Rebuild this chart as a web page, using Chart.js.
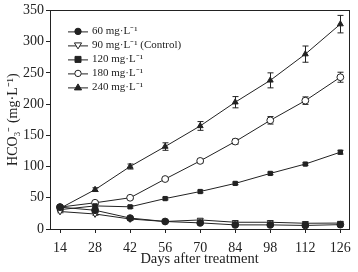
<!DOCTYPE html>
<html><head><meta charset="utf-8">
<script src="https://cdn.jsdelivr.net/npm/chart.js@4/dist/chart.umd.min.js"></script>
<style>html,body{margin:0;padding:0;background:#fff}#w{width:358px;height:272px}</style>
</head><body><div id="w"><canvas id="c"></canvas></div>
<script>
const days = [14, 28, 42, 56, 70, 84, 98, 112, 126];
const yTicks = [0, 50, 100, 150, 200, 250, 300, 350];
const labels = ["60 mg·L⁻¹", "90 mg·L⁻¹ (Control)", "120 mg·L⁻¹", "180 mg·L⁻¹", "240 mg·L⁻¹"];
const s60  = [35, 30, 17.5, 12, 9.8, 6.6, 6.6, 5.7, 7];
const s90  = [28, 24, 16, 12, 14.5, 10.8, 10.8, 9.2, 9.5];
const s120 = [31, 37, 35.5, 48.7, 60, 73, 89, 104, 123];
const s180 = [35, 42, 50, 80, 109, 140, 174, 205.5, 243];
const s240 = [33, 63, 100, 132, 165, 203, 238, 280, 328];
const e60  = [2, 2, 2, 1.5, 1.5, 1.5, 1.5, 1.5, 1.5];
const e90  = [2, 2, 2, 1.5, 1.5, 1.5, 1.5, 1.5, 1.5];
const e120 = [2, 2, 2, 2, 2, 2, 2, 2, 3];
const e180 = [2, 2, 2, 2, 3, 4, 6, 6, 8];
const e240 = [2, 3, 4, 6, 7, 9, 12, 13, 14];

const INK = '#222';
const FONT = '"Liberation Serif", "Times New Roman", serif';
const pts = arr => arr.map((v, i) => ({x: days[i], y: v}));
function ds(label, data, err, style, fill, rot) {
  return {label, data: pts(data), err, borderColor: INK, borderWidth: 1, pointStyle: style,
    pointRotation: rot || 0, pointRadius: style === 'rect' ? 3 : 3.4, pointBackgroundColor: fill,
    pointBorderColor: INK, pointBorderWidth: 1, tension: 0, fill: false};
}
const datasets = [
  ds(labels[0], s60, e60, 'circle', INK),
  ds(labels[1], s90, e90, 'triangle', '#fff', 180),
  ds(labels[2], s120, e120, 'rect', INK),
  ds(labels[3], s180, e180, 'circle', '#fff'),
  ds(labels[4], s240, e240, 'triangle', INK),
];

const errPlugin = {
  id: 'err',
  beforeDatasetsDraw(chart) {
    const ctx = chart.ctx, xs = chart.scales.x, ys = chart.scales.y;
    ctx.save(); ctx.strokeStyle = INK; ctx.lineWidth = 1;
    chart.data.datasets.forEach(d => {
      d.data.forEach((p, i) => {
        const e = d.err[i]; const x = Math.round(xs.getPixelForValue(p.x)) + 0.5;
        const y1 = ys.getPixelForValue(p.y - e), y2 = ys.getPixelForValue(p.y + e);
        ctx.beginPath(); ctx.moveTo(x, y1); ctx.lineTo(x, y2);
        ctx.moveTo(x - 3, y1); ctx.lineTo(x + 3, y1);
        ctx.moveTo(x - 3, y2); ctx.lineTo(x + 3, y2); ctx.stroke();
      });
    });
    ctx.restore();
  },
  afterDraw(chart) {
    const ctx = chart.ctx, a = chart.chartArea;
    ctx.save(); ctx.strokeStyle = INK; ctx.lineWidth = 1;
    ctx.strokeRect(Math.round(a.left) + 0.5, Math.round(a.top) + 0.5, Math.round(a.right - a.left), Math.round(a.bottom - a.top));
    // legend
    ctx.font = '11px ' + FONT; ctx.fillStyle = INK; ctx.textBaseline = 'middle';
    chart.data.datasets.forEach((d, i) => {
      const y = a.top + 21 + i * 14;
      const x0 = a.left + 18, x1 = a.left + 38;
      ctx.beginPath(); ctx.moveTo(x0, y + 0.5); ctx.lineTo(x1, y + 0.5); ctx.stroke();
      const cx = (x0 + x1) / 2;
      ctx.fillStyle = d.pointBackgroundColor; ctx.beginPath();
      if (d.pointStyle === 'circle') { ctx.arc(cx, y, 3.2, 0, Math.PI * 2); }
      else if (d.pointStyle === 'rect') { ctx.rect(cx - 3, y - 3, 6, 6); }
      else if (d.pointRotation === 180) { ctx.moveTo(cx - 3.6, y - 2.5); ctx.lineTo(cx + 3.6, y - 2.5); ctx.lineTo(cx, y + 3.5); ctx.closePath(); }
      else { ctx.moveTo(cx - 3.6, y + 2.5); ctx.lineTo(cx + 3.6, y + 2.5); ctx.lineTo(cx, y - 3.5); ctx.closePath(); }
      ctx.fill(); ctx.stroke();
      ctx.fillStyle = INK; ctx.fillText(d.label, x1 + 4, y);
    });
    ctx.restore();
  }
};

new Chart(document.getElementById('c'), {
  type: 'line',
  data: {datasets},
  plugins: [errPlugin],
  options: {
    responsive: true, maintainAspectRatio: false, animation: false,
    layout: {padding: {top: 8, right: 3, left: 1, bottom: 0}},
    plugins: {legend: {display: false}, tooltip: {enabled: false}},
    scales: {
      x: {type: 'linear', min: 10, max: 129.5,
        afterBuildTicks: s => { s.ticks = days.map(v => ({value: v})); },
        afterFit: s => { s.height = 43; },
        grid: {display: true, drawOnChartArea: false, tickLength: 4, color: INK},
        border: {color: INK},
        ticks: {color: INK, font: {family: FONT, size: 14}, padding: 7, maxRotation: 0, autoSkip: false},
        title: {display: true, text: 'Days after treatment', color: INK, font: {family: FONT, size: 14.5}, padding: {top: 1}}},
      y: {min: 0, max: 350,
        afterBuildTicks: s => { s.ticks = yTicks.map(v => ({value: v})); },
        afterFit: s => { s.width = 49; },
        grid: {display: true, drawOnChartArea: false, tickLength: 4, color: INK},
        border: {color: INK},
        ticks: {color: INK, font: {family: FONT, size: 14}, padding: 2},
        title: {display: true, text: 'HCO₃⁻ (mg·L⁻¹)', color: INK, font: {family: FONT, size: 14}, padding: {bottom: 0}}}
    }
  }
});
</script></body></html>
